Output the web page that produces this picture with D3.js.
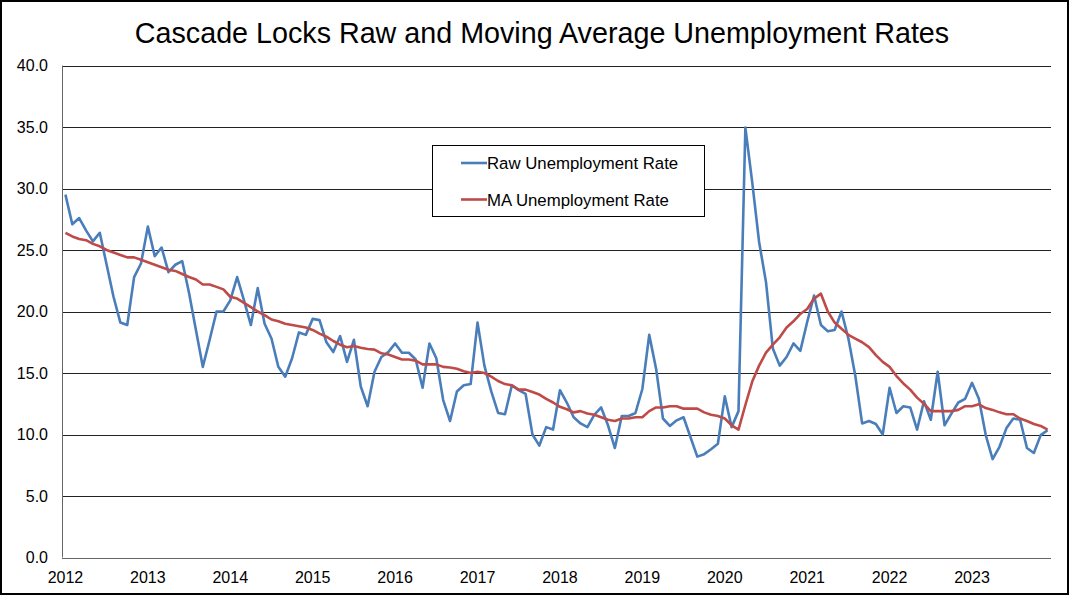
<!DOCTYPE html>
<html>
<head>
<meta charset="utf-8">
<script src="https://cdn.jsdelivr.net/npm/d3@7"></script>
<style>
  body { margin: 0; background: #fff; }
  svg text { font-family: "Liberation Sans", Arial, sans-serif; fill: #000; }
</style>
</head>
<body>
<div id="chart"></div>
<script>
// Monthly series, Jan 2012 .. Dec 2023
var startYear = 2012;
var years = [2012, 2013, 2014, 2015, 2016, 2017, 2018, 2019, 2020, 2021, 2022, 2023];
var yTicks = [0, 5, 10, 15, 20, 25, 30, 35, 40];

var rawRate = [
    29.5, 27.1, 27.6, 26.6, 25.7, 26.4, 23.8, 21.2, 19.1, 18.9, 22.8, 23.9,
    26.9, 24.5, 25.2, 23.2, 23.8, 24.1, 21.5, 18.5, 15.5, 17.7, 20.0, 20.0,
    20.9, 22.8, 20.9, 18.9, 21.9, 19.0, 17.8, 15.5, 14.7, 16.2, 18.3, 18.1,
    19.4, 19.3, 17.5, 16.7, 18.0, 15.9, 17.7, 13.9, 12.3, 15.1, 16.3, 16.7,
    17.4, 16.65, 16.65, 16.1, 13.8, 17.4, 16.2, 12.8, 11.1, 13.5, 14.0, 14.1,
    19.1, 15.6, 13.5, 11.75, 11.65, 14.0, 13.6, 13.3, 10.0, 9.1, 10.6, 10.4,
    13.6, 12.6, 11.4, 10.9, 10.6, 11.6, 12.2, 10.75, 8.9, 11.5, 11.5, 11.75,
    13.7, 18.1, 15.35, 11.3, 10.7, 11.15, 11.4, 9.8, 8.2, 8.4, 8.8, 9.25,
    13.1, 10.6, 11.9, 34.95, 30.5, 25.65, 22.4, 17.0, 15.6, 16.3, 17.4, 16.8,
    19.15, 21.3, 18.9, 18.4, 18.5, 20.0, 17.8, 14.8, 10.9, 11.1, 10.85, 10.0,
    13.8, 11.75, 12.3, 12.2, 10.4, 12.7, 11.2, 15.1, 10.75, 11.7, 12.6, 12.9,
    14.2, 12.9, 9.95, 8.0, 9.0, 10.5, 11.3, 11.2, 8.9, 8.5, 9.95, 10.35
];

var maRate = [
    26.4, 26.1, 25.9, 25.8, 25.5, 25.3, 25.0, 24.8, 24.6, 24.4, 24.4, 24.2,
    24.0, 23.8, 23.6, 23.4, 23.3, 23.05, 22.8, 22.6, 22.2, 22.2, 22.0, 21.8,
    21.2, 21.05, 20.7, 20.35, 20.0, 19.7, 19.35, 19.2, 19.0, 18.9, 18.8, 18.7,
    18.5, 18.2, 17.95, 17.6, 17.3, 17.1, 17.2, 17.05, 16.95, 16.9, 16.6, 16.5,
    16.3, 16.1, 16.1, 16.0, 15.7, 15.7, 15.7, 15.5, 15.45, 15.35, 15.15, 15.0,
    15.1, 15.0, 14.7, 14.35, 14.1, 14.0, 13.65, 13.65, 13.45, 13.25, 12.9, 12.6,
    12.25, 12.05, 11.8, 11.9, 11.7, 11.6, 11.4, 11.2, 11.1, 11.3, 11.3, 11.4,
    11.4, 11.9, 12.2, 12.2, 12.3, 12.3, 12.1, 12.1, 12.1, 11.8, 11.6, 11.5,
    11.3, 10.75, 10.4, 12.4, 14.3, 15.6, 16.65, 17.3, 17.9, 18.7, 19.2, 19.8,
    20.2, 21.05, 21.45, 20.0, 19.1, 18.6, 18.1, 17.8, 17.5, 17.1, 16.45, 15.9,
    15.5, 14.75, 14.15, 13.65, 13.0, 12.5, 11.9, 11.9, 11.9, 11.9, 12.0, 12.3,
    12.3, 12.45, 12.15, 12.0, 11.8, 11.65, 11.65, 11.3, 11.1, 10.85, 10.7, 10.4
];

var seriesNames = ["Raw Unemployment Rate", "MA Unemployment Rate"];
var seriesColors = ["#4a7ebb", "#be4b48"];

var W = 1070, H = 596;
var plot = { left: 62, right: 1051, top: 65.5, bottom: 557.5 };

var svg = d3.select("#chart").append("svg")
    .attr("width", W)
    .attr("height", H);

// outer frame
svg.append("rect")
    .attr("x", 1).attr("y", 1)
    .attr("width", W - 3).attr("height", H - 3)
    .attr("fill", "#fff")
    .attr("stroke", "#000")
    .attr("stroke-width", 2);

var idx = d3.range(rawRate.length);

var x = d3.scalePoint()
    .domain(idx)
    .range([plot.left, plot.right])
    .padding(0.5);

var y = d3.scaleLinear()
    .domain([0, 40])
    .range([plot.bottom, plot.top]);

// gridlines
svg.append("g")
    .selectAll("line")
    .data(yTicks.filter(function (d) { return d > 0; }))
    .join("line")
    .attr("x1", plot.left)
    .attr("x2", plot.right)
    .attr("y1", function (d) { return Math.round(y(d)) + 0.5; })
    .attr("y2", function (d) { return Math.round(y(d)) + 0.5; })
    .attr("stroke", "#222")
    .attr("stroke-width", 1);

// axes lines
svg.append("line")
    .attr("x1", plot.left + 0.5).attr("x2", plot.left + 0.5)
    .attr("y1", plot.top).attr("y2", plot.bottom)
    .attr("stroke", "#666");
svg.append("line")
    .attr("x1", plot.left).attr("x2", plot.right)
    .attr("y1", Math.round(y(0)) + 0.5).attr("y2", Math.round(y(0)) + 0.5)
    .attr("stroke", "#666");

// y tick labels
svg.append("g")
    .selectAll("text")
    .data(yTicks)
    .join("text")
    .attr("x", 48)
    .attr("y", function (d) { return y(d) + 5.5; })
    .attr("text-anchor", "end")
    .attr("font-size", "16px")
    .text(function (d) { return d3.format(".1f")(d); });

// x tick labels at each January
svg.append("g")
    .selectAll("text")
    .data(years)
    .join("text")
    .attr("x", function (d) { return x((d - startYear) * 12); })
    .attr("y", 583)
    .attr("text-anchor", "middle")
    .attr("font-size", "16px")
    .text(function (d) { return d; });

// lines
var line = d3.line()
    .x(function (d, i) { return x(i); })
    .y(function (d) { return y(d); });

[rawRate, maRate].forEach(function (s, k) {
    svg.append("path")
        .datum(s)
        .attr("fill", "none")
        .attr("stroke", seriesColors[k])
        .attr("stroke-width", 2.6)
        .attr("stroke-linejoin", "round")
        .attr("d", line);
});

// legend
var lg = svg.append("g").attr("transform", "translate(432,145)");
lg.append("rect")
    .attr("x", 0.5).attr("y", 0.5)
    .attr("width", 272).attr("height", 71)
    .attr("fill", "#fff")
    .attr("stroke", "#000");
seriesNames.forEach(function (name, k) {
    var ly = 18 + k * 36.5;
    lg.append("line")
        .attr("x1", 29).attr("x2", 55)
        .attr("y1", ly).attr("y2", ly)
        .attr("stroke", seriesColors[k])
        .attr("stroke-width", 2.6);
    lg.append("text")
        .attr("x", 55)
        .attr("y", ly + 6)
        .attr("font-size", "16.8px")
        .text(name);
});

// title
svg.append("text")
    .attr("x", 542)
    .attr("y", 43)
    .attr("text-anchor", "middle")
    .attr("font-size", "28.7px")
    .text("Cascade Locks Raw and Moving Average Unemployment Rates");
</script>
</body>
</html>
